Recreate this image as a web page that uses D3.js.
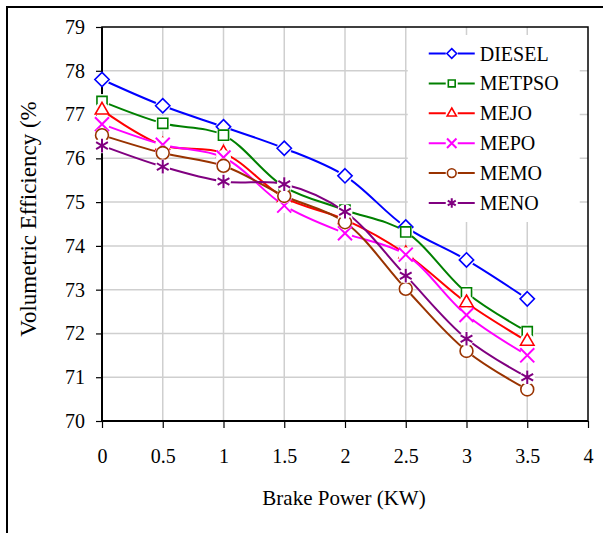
<!DOCTYPE html>
<html>
<head>
<meta charset="utf-8">
<script src="https://cdnjs.cloudflare.com/ajax/libs/d3/7.8.5/d3.min.js"></script>
<style>
  body { margin: 0; background: #fff; }
  svg text { font-family: "Liberation Serif", Tinos, "Times New Roman", Times, "DejaVu Serif", serif !important; }
</style>
</head>
<body>
<div id="chart"></div>
<script>
// data
var brakePower = [0, 0.5, 1, 1.5, 2, 2.5, 3, 3.5];
var diesel = [77.8, 77.2, 76.72, 76.23, 75.6, 74.43, 73.68, 72.79];
var metpso = [77.3, 76.8, 76.53, 75.35, 74.82, 74.32, 72.93, 72.04];
var mejo = [77.1, 76.3, 76.12, 75.1, 74.6, 73.82, 72.7, 71.82];
var mepo = [76.78, 76.31, 76.02, 74.92, 74.29, 73.8, 72.42, 71.5];
var memo = [76.53, 76.12, 75.83, 75.14, 74.54, 73.02, 71.6, 70.72];
var meno = [76.29, 75.81, 75.47, 75.41, 74.78, 73.32, 71.88, 71.0];
var seriesNames = ["DIESEL", "METPSO", "MEJO", "MEPO", "MEMO", "MENO"];
var xTicks = [0, 0.5, 1, 1.5, 2, 2.5, 3, 3.5, 4];
var yTicks = [70, 71, 72, 73, 74, 75, 76, 77, 78, 79];

var seriesValues = [diesel, metpso, mejo, mepo, memo, meno];
var colors = ["#0000ff", "#008000", "#ff0000", "#ff00ff", "#993300", "#800080"];
var markers = ["diamond", "square", "triangle", "cross", "circle", "star"];

// svg size and margins
var svgWidth = 603;
var svgHeight = 533;
var margin = { top: 27, right: 15, bottom: 112, left: 102 };
var width = svgWidth - margin.left - margin.right;
var height = svgHeight - margin.top - margin.bottom;

var svg = d3.select("#chart")
  .append("svg")
  .attr("width", svgWidth)
  .attr("height", svgHeight);

// outer chart border
svg.append("rect")
  .attr("x", 7)
  .attr("y", 7)
  .attr("width", 620)
  .attr("height", 560)
  .attr("fill", "none")
  .attr("stroke", "#000")
  .attr("stroke-width", 2);

var chartGroup = svg.append("g")
  .attr("transform", `translate(${margin.left}, ${margin.top})`);

// scales
var xScale = d3.scaleLinear().domain([0, 4]).range([0, width]);
var yScale = d3.scaleLinear().domain([70, 79]).range([height, 0]);

// gridlines
chartGroup.append("g").selectAll("line")
  .data(xTicks.slice(1, -1))
  .enter()
  .append("line")
  .attr("x1", d => xScale(d))
  .attr("x2", d => xScale(d))
  .attr("y1", 0)
  .attr("y2", height)
  .attr("stroke", "#cfcfcf")
  .attr("stroke-width", 1.5);

chartGroup.append("g").selectAll("line")
  .data(yTicks.slice(1, -1))
  .enter()
  .append("line")
  .attr("x1", 0)
  .attr("x2", width)
  .attr("y1", d => yScale(d))
  .attr("y2", d => yScale(d))
  .attr("stroke", "#cfcfcf")
  .attr("stroke-width", 1.5);

// legend background sits over the grid
var legendGroup = chartGroup.append("g")
  .attr("transform", `translate(${xScale(2.5) + 2}, 8)`);

legendGroup.append("rect")
  .attr("width", 172)
  .attr("height", 187)
  .attr("fill", "#fff");

// plot frame
chartGroup.append("rect")
  .attr("width", width)
  .attr("height", height)
  .attr("fill", "none")
  .attr("stroke", "#000")
  .attr("stroke-width", 1.5);

// axes
var leftAxis = d3.axisLeft(yScale)
  .tickValues(yTicks)
  .tickSize(6)
  .tickPadding(11)
  .tickFormat(d3.format("d"));

var bottomAxis = d3.axisBottom(xScale)
  .tickValues(xTicks)
  .tickSize(7)
  .tickPadding(21)
  .tickFormat(d => String(d));

var yAxisG = chartGroup.append("g").call(leftAxis);
var xAxisG = chartGroup.append("g")
  .attr("transform", `translate(0, ${height})`)
  .call(bottomAxis);

[yAxisG, xAxisG].forEach(function(g) {
  g.attr("font-family", null);
  g.select(".domain").attr("stroke", "#000").attr("stroke-width", 2);
  g.selectAll(".tick line").attr("stroke", "#000").attr("stroke-width", 1.2);
  g.selectAll(".tick text")
    .attr("fill", "#000")
    .attr("font-size", "20px");
});
yAxisG.select(".domain").attr("d", `M0,0V${height}`);
xAxisG.select(".domain").attr("d", `M0,0H${width}`);

// marker drawing
var symbolTypes = {
  diamond: d3.symbolDiamond2,
  square: d3.symbolSquare2,
  triangle: d3.symbolTriangle2,
  cross: d3.symbolX,
  circle: d3.symbolCircle,
  star: d3.symbolAsterisk
};

function drawMarker(g, type, color, size) {
  g.append("path")
    .attr("d", d3.symbol().type(symbolTypes[type]).size(size)())
    .attr("fill", "#fff")
    .attr("stroke", color)
    .attr("stroke-width", type === "cross" || type === "star" ? 2 : 1.6);
}

// lines
var line = d3.line()
  .x((d, i) => xScale(brakePower[i]))
  .y(d => yScale(d))
  .curve(d3.curveCatmullRom);

seriesValues.forEach(function(vals, s) {
  chartGroup.append("path")
    .datum(vals)
    .attr("d", line)
    .attr("fill", "none")
    .attr("stroke", colors[s])
    .attr("stroke-width", 2);
});

// points with a white halo
seriesValues.forEach(function(vals, s) {
  chartGroup.append("g").selectAll("g")
    .data(vals)
    .enter()
    .append("g")
    .attr("transform", (d, i) => `translate(${xScale(brakePower[i])}, ${yScale(d)})`)
    .each(function() {
      var g = d3.select(this);
      g.append("circle").attr("r", 7.5).attr("fill", "#fff");
      drawMarker(g, markers[s], colors[s], 130);
    });
});

// legend entries
seriesNames.forEach(function(name, s) {
  var row = legendGroup.append("g")
    .attr("transform", `translate(0, ${18.5 + s * 29.9})`);
  row.append("line")
    .attr("x1", 21)
    .attr("x2", 67)
    .attr("stroke", colors[s])
    .attr("stroke-width", 2);
  var m = row.append("g").attr("transform", "translate(44, 0)");
  m.append("rect").attr("x", -6).attr("y", -6).attr("width", 12).attr("height", 12)
    .attr("fill", "#fff");
  drawMarker(m, markers[s], colors[s], 60);
  row.append("text")
    .attr("x", 72)
    .attr("dy", "0.35em")
    .attr("font-size", "20px")
    .attr("fill", "#000")
    .text(name);
});

// axis titles
svg.append("text")
  .attr("x", 344)
  .attr("y", 505)
  .attr("text-anchor", "middle")
  .attr("font-size", "21px")
  .attr("fill", "#000")
  .text("Brake Power (KW)");

svg.append("text")
  .attr("transform", "translate(36, 219) rotate(-90)")
  .attr("text-anchor", "middle")
  .attr("font-size", "23px")
  .attr("fill", "#000")
  .text("Volumetric Efficiency (%");
</script>
</body>
</html>
